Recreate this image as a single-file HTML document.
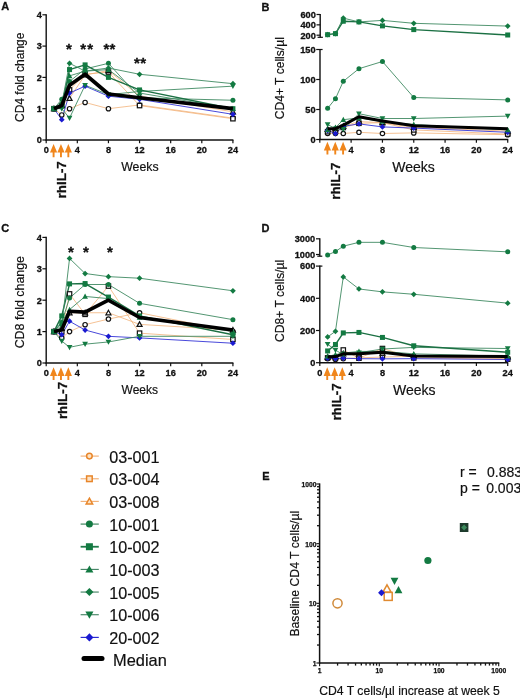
<!DOCTYPE html>
<html><head><meta charset="utf-8"><style>
html,body{margin:0;padding:0;background:#fff;}
body{width:520px;height:698px;overflow:hidden;font-family:"Liberation Sans",sans-serif;}
svg{display:block;filter:blur(0.3px);}
</style></head><body>
<svg width="520" height="698" viewBox="0 0 520 698" font-family="Liberation Sans, sans-serif">
<rect width="520" height="698" fill="#fff"/>
<text x="1.20" y="10.00" font-size="11" font-weight="bold" text-anchor="start" fill="#111" stroke="#111" stroke-width="0.3">A</text>
<path d="M46.20 14.20V140.60" stroke="#111" stroke-width="1.4"/>
<path d="M42.40 140.00H46.20" stroke="#111" stroke-width="1.2"/>
<text x="41.80" y="143.31" font-size="9.2" font-weight="bold" text-anchor="end" fill="#111" stroke="#111" stroke-width="0.3">0</text>
<path d="M42.40 108.70H46.20" stroke="#111" stroke-width="1.2"/>
<text x="41.80" y="112.01" font-size="9.2" font-weight="bold" text-anchor="end" fill="#111" stroke="#111" stroke-width="0.3">1</text>
<path d="M42.40 77.40H46.20" stroke="#111" stroke-width="1.2"/>
<text x="41.80" y="80.71" font-size="9.2" font-weight="bold" text-anchor="end" fill="#111" stroke="#111" stroke-width="0.3">2</text>
<path d="M42.40 46.10H46.20" stroke="#111" stroke-width="1.2"/>
<text x="41.80" y="49.41" font-size="9.2" font-weight="bold" text-anchor="end" fill="#111" stroke="#111" stroke-width="0.3">3</text>
<path d="M42.40 14.80H46.20" stroke="#111" stroke-width="1.2"/>
<text x="41.80" y="18.11" font-size="9.2" font-weight="bold" text-anchor="end" fill="#111" stroke="#111" stroke-width="0.3">4</text>
<path d="M45.50 140.00H233.42" stroke="#111" stroke-width="1.4"/>
<path d="M46.20 140.00V143.20" stroke="#111" stroke-width="1.2"/>
<text x="46.20" y="152.80" font-size="9.2" font-weight="bold" text-anchor="middle" fill="#111" stroke="#111" stroke-width="0.3">0</text>
<path d="M77.32 140.00V143.20" stroke="#111" stroke-width="1.2"/>
<text x="77.32" y="152.80" font-size="9.2" font-weight="bold" text-anchor="middle" fill="#111" stroke="#111" stroke-width="0.3">4</text>
<path d="M108.44 140.00V143.20" stroke="#111" stroke-width="1.2"/>
<text x="108.44" y="152.80" font-size="9.2" font-weight="bold" text-anchor="middle" fill="#111" stroke="#111" stroke-width="0.3">8</text>
<path d="M139.56 140.00V143.20" stroke="#111" stroke-width="1.2"/>
<text x="139.56" y="152.80" font-size="9.2" font-weight="bold" text-anchor="middle" fill="#111" stroke="#111" stroke-width="0.3">12</text>
<path d="M170.68 140.00V143.20" stroke="#111" stroke-width="1.2"/>
<text x="170.68" y="152.80" font-size="9.2" font-weight="bold" text-anchor="middle" fill="#111" stroke="#111" stroke-width="0.3">16</text>
<path d="M201.80 140.00V143.20" stroke="#111" stroke-width="1.2"/>
<text x="201.80" y="152.80" font-size="9.2" font-weight="bold" text-anchor="middle" fill="#111" stroke="#111" stroke-width="0.3">20</text>
<path d="M232.92 140.00V143.20" stroke="#111" stroke-width="1.2"/>
<text x="232.92" y="152.80" font-size="9.2" font-weight="bold" text-anchor="middle" fill="#111" stroke="#111" stroke-width="0.3">24</text>
<path d="M53.98 108.70L61.76 114.96L69.54 108.70L85.10 102.44L108.44 108.70L139.56 104.94L232.92 118.09" fill="none" stroke="#f2b27a" stroke-width="0.8" stroke-linejoin="round"/>
<path d="M53.98 108.70L61.76 105.57L69.54 89.92L85.10 74.27L108.44 72.08L139.56 105.57L232.92 118.72" fill="none" stroke="#f2b27a" stroke-width="0.8" stroke-linejoin="round"/>
<path d="M53.98 108.70L61.76 105.57L69.54 98.37L85.10 74.90L108.44 70.51L139.56 96.18L232.92 111.83" fill="none" stroke="#f2b27a" stroke-width="0.8" stroke-linejoin="round"/>
<path d="M53.98 108.70L61.76 119.66L69.54 93.05L85.10 86.16L108.44 96.18L139.56 99.31L232.92 114.33" fill="none" stroke="#1a1ad0" stroke-width="0.8" stroke-linejoin="round"/>
<path d="M53.98 108.70L61.76 108.70L69.54 118.09L85.10 85.22L108.44 94.62L139.56 91.48L232.92 86.16" fill="none" stroke="#3f8a62" stroke-width="0.9" stroke-linejoin="round"/>
<path d="M53.98 108.70L61.76 102.44L69.54 75.84L85.10 71.14L108.44 69.58L139.56 93.05L232.92 108.70" fill="none" stroke="#3f8a62" stroke-width="0.9" stroke-linejoin="round"/>
<path d="M53.98 108.70L61.76 99.31L69.54 81.47L85.10 68.95L108.44 63.31L139.56 97.75L232.92 100.25" fill="none" stroke="#3f8a62" stroke-width="0.9" stroke-linejoin="round"/>
<path d="M53.98 108.70L61.76 105.57L69.54 69.58L85.10 64.88L108.44 77.40L139.56 89.92L232.92 108.70" fill="none" stroke="#1b7043" stroke-width="1.4" stroke-linejoin="round"/>
<path d="M53.98 108.70L61.76 104.00L69.54 63.31L85.10 71.14L108.44 68.01L139.56 74.27L232.92 83.66" fill="none" stroke="#3f8a62" stroke-width="0.9" stroke-linejoin="round"/>
<circle cx="53.98" cy="108.70" r="2.20" fill="#fff" stroke="#111" stroke-width="1.2"/>
<circle cx="61.76" cy="114.96" r="2.20" fill="#fff" stroke="#111" stroke-width="1.2"/>
<circle cx="69.54" cy="108.70" r="2.20" fill="#fff" stroke="#111" stroke-width="1.2"/>
<circle cx="85.10" cy="102.44" r="2.20" fill="#fff" stroke="#111" stroke-width="1.2"/>
<circle cx="108.44" cy="108.70" r="2.20" fill="#fff" stroke="#111" stroke-width="1.2"/>
<circle cx="139.56" cy="104.94" r="2.20" fill="#fff" stroke="#111" stroke-width="1.2"/>
<circle cx="232.92" cy="118.09" r="2.20" fill="#fff" stroke="#111" stroke-width="1.2"/>
<rect x="51.78" y="106.50" width="4.40" height="4.40" fill="#fff" stroke="#111" stroke-width="1.2"/>
<rect x="59.56" y="103.37" width="4.40" height="4.40" fill="#fff" stroke="#111" stroke-width="1.2"/>
<rect x="67.34" y="87.72" width="4.40" height="4.40" fill="#fff" stroke="#111" stroke-width="1.2"/>
<rect x="82.90" y="72.07" width="4.40" height="4.40" fill="#fff" stroke="#111" stroke-width="1.2"/>
<rect x="106.24" y="69.88" width="4.40" height="4.40" fill="#fff" stroke="#111" stroke-width="1.2"/>
<rect x="137.36" y="103.37" width="4.40" height="4.40" fill="#fff" stroke="#111" stroke-width="1.2"/>
<rect x="230.72" y="116.52" width="4.40" height="4.40" fill="#fff" stroke="#111" stroke-width="1.2"/>
<path d="M53.98 106.17L56.51 110.72L51.45 110.72Z" fill="#fff" stroke="#111" stroke-width="1.2"/>
<path d="M61.76 103.04L64.29 107.59L59.23 107.59Z" fill="#fff" stroke="#111" stroke-width="1.2"/>
<path d="M69.54 95.84L72.07 100.39L67.01 100.39Z" fill="#fff" stroke="#111" stroke-width="1.2"/>
<path d="M85.10 72.37L87.63 76.92L82.57 76.92Z" fill="#fff" stroke="#111" stroke-width="1.2"/>
<path d="M108.44 67.98L110.97 72.54L105.91 72.54Z" fill="#fff" stroke="#111" stroke-width="1.2"/>
<path d="M139.56 93.65L142.09 98.20L137.03 98.20Z" fill="#fff" stroke="#111" stroke-width="1.2"/>
<path d="M232.92 109.30L235.45 113.85L230.39 113.85Z" fill="#fff" stroke="#111" stroke-width="1.2"/>
<path d="M53.98 105.83L56.86 108.70L53.98 111.58L51.11 108.70Z" fill="#1a1ad0"/>
<path d="M61.76 116.78L64.64 119.66L61.76 122.53L58.89 119.66Z" fill="#1a1ad0"/>
<path d="M69.54 90.17L72.42 93.05L69.54 95.92L66.67 93.05Z" fill="#1a1ad0"/>
<path d="M85.10 83.29L87.97 86.16L85.10 89.04L82.22 86.16Z" fill="#1a1ad0"/>
<path d="M108.44 93.31L111.31 96.18L108.44 99.06L105.56 96.18Z" fill="#1a1ad0"/>
<path d="M139.56 96.44L142.44 99.31L139.56 102.19L136.69 99.31Z" fill="#1a1ad0"/>
<path d="M232.92 111.46L235.80 114.33L232.92 117.21L230.05 114.33Z" fill="#1a1ad0"/>
<path d="M53.98 111.58L56.86 106.40L51.11 106.40Z" fill="#137a42"/>
<path d="M61.76 111.58L64.64 106.40L58.89 106.40Z" fill="#137a42"/>
<path d="M69.54 120.97L72.42 115.79L66.67 115.79Z" fill="#137a42"/>
<path d="M85.10 88.10L87.97 82.92L82.22 82.92Z" fill="#137a42"/>
<path d="M108.44 97.49L111.31 92.32L105.56 92.32Z" fill="#137a42"/>
<path d="M139.56 94.36L142.44 89.19L136.69 89.19Z" fill="#137a42"/>
<path d="M232.92 89.04L235.80 83.86L230.05 83.86Z" fill="#137a42"/>
<path d="M53.98 105.83L56.86 111.00L51.11 111.00Z" fill="#137a42"/>
<path d="M61.76 99.56L64.64 104.74L58.89 104.74Z" fill="#137a42"/>
<path d="M69.54 72.96L72.42 78.14L66.67 78.14Z" fill="#137a42"/>
<path d="M85.10 68.26L87.97 73.44L82.22 73.44Z" fill="#137a42"/>
<path d="M108.44 66.70L111.31 71.88L105.56 71.88Z" fill="#137a42"/>
<path d="M139.56 90.17L142.44 95.35L136.69 95.35Z" fill="#137a42"/>
<path d="M232.92 105.83L235.80 111.00L230.05 111.00Z" fill="#137a42"/>
<circle cx="53.98" cy="108.70" r="2.50" fill="#137a42"/>
<circle cx="61.76" cy="99.31" r="2.50" fill="#137a42"/>
<circle cx="69.54" cy="81.47" r="2.50" fill="#137a42"/>
<circle cx="85.10" cy="68.95" r="2.50" fill="#137a42"/>
<circle cx="108.44" cy="63.31" r="2.50" fill="#137a42"/>
<circle cx="139.56" cy="97.75" r="2.50" fill="#137a42"/>
<circle cx="232.92" cy="100.25" r="2.50" fill="#137a42"/>
<rect x="51.48" y="106.20" width="5.00" height="5.00" fill="#137a42"/>
<rect x="59.26" y="103.07" width="5.00" height="5.00" fill="#137a42"/>
<rect x="67.04" y="67.08" width="5.00" height="5.00" fill="#137a42"/>
<rect x="82.60" y="62.38" width="5.00" height="5.00" fill="#137a42"/>
<rect x="105.94" y="74.90" width="5.00" height="5.00" fill="#137a42"/>
<rect x="137.06" y="87.42" width="5.00" height="5.00" fill="#137a42"/>
<rect x="230.42" y="106.20" width="5.00" height="5.00" fill="#137a42"/>
<path d="M53.98 105.83L56.86 108.70L53.98 111.58L51.11 108.70Z" fill="#137a42"/>
<path d="M61.76 101.13L64.64 104.00L61.76 106.88L58.89 104.00Z" fill="#137a42"/>
<path d="M69.54 60.44L72.42 63.31L69.54 66.19L66.67 63.31Z" fill="#137a42"/>
<path d="M85.10 68.26L87.97 71.14L85.10 74.01L82.22 71.14Z" fill="#137a42"/>
<path d="M108.44 65.14L111.31 68.01L108.44 70.89L105.56 68.01Z" fill="#137a42"/>
<path d="M139.56 71.39L142.44 74.27L139.56 77.14L136.69 74.27Z" fill="#137a42"/>
<path d="M232.92 80.78L235.80 83.66L232.92 86.53L230.05 83.66Z" fill="#137a42"/>
<path d="M53.98 108.70L61.76 105.57L69.54 85.22L85.10 74.27L108.44 93.99L139.56 97.75L232.92 108.70" fill="none" stroke="#000" stroke-width="3.7" stroke-linejoin="round"/>
<text x="69.00" y="54.20" font-size="15" font-weight="bold" text-anchor="middle" fill="#111" stroke="#111" stroke-width="0.3">*</text>
<text x="83.10" y="54.20" font-size="15" font-weight="bold" text-anchor="middle" fill="#111" stroke="#111" stroke-width="0.3">*</text>
<text x="90.10" y="54.20" font-size="15" font-weight="bold" text-anchor="middle" fill="#111" stroke="#111" stroke-width="0.3">*</text>
<text x="106.30" y="54.20" font-size="15" font-weight="bold" text-anchor="middle" fill="#111" stroke="#111" stroke-width="0.3">*</text>
<text x="112.50" y="54.20" font-size="15" font-weight="bold" text-anchor="middle" fill="#111" stroke="#111" stroke-width="0.3">*</text>
<text x="137.00" y="68.20" font-size="15" font-weight="bold" text-anchor="middle" fill="#111" stroke="#111" stroke-width="0.3">*</text>
<text x="143.20" y="68.20" font-size="15" font-weight="bold" text-anchor="middle" fill="#111" stroke="#111" stroke-width="0.3">*</text>
<text x="23.80" y="77.30" font-size="12" text-anchor="middle" transform="rotate(-90 23.80 77.30)" fill="#111" stroke="#111" stroke-width="0.18">CD4 fold change</text>
<text x="139.90" y="171.30" font-size="12.3" text-anchor="middle" fill="#111" stroke="#111" stroke-width="0.18">Weeks</text>
<path d="M53.58 144.00L57.18 152.60L54.53 152.60L54.53 157.30L52.63 157.30L52.63 152.60L49.98 152.60Z" fill="#f0861c"/>
<path d="M60.96 144.00L64.56 152.60L61.91 152.60L61.91 157.30L60.01 157.30L60.01 152.60L57.36 152.60Z" fill="#f0861c"/>
<path d="M68.34 144.00L71.94 152.60L69.29 152.60L69.29 157.30L67.39 157.30L67.39 152.60L64.74 152.60Z" fill="#f0861c"/>
<text x="66.30" y="179.80" font-size="13.4" font-weight="bold" text-anchor="middle" transform="rotate(-90 66.30 179.80)" fill="#111" stroke="#111" stroke-width="0.3">rhIL-7</text>
<text x="1.20" y="231.90" font-size="11" font-weight="bold" text-anchor="start" fill="#111" stroke="#111" stroke-width="0.3">C</text>
<path d="M46.20 236.80V363.60" stroke="#111" stroke-width="1.4"/>
<path d="M42.40 363.00H46.20" stroke="#111" stroke-width="1.2"/>
<text x="41.80" y="366.31" font-size="9.2" font-weight="bold" text-anchor="end" fill="#111" stroke="#111" stroke-width="0.3">0</text>
<path d="M42.40 331.60H46.20" stroke="#111" stroke-width="1.2"/>
<text x="41.80" y="334.91" font-size="9.2" font-weight="bold" text-anchor="end" fill="#111" stroke="#111" stroke-width="0.3">1</text>
<path d="M42.40 300.20H46.20" stroke="#111" stroke-width="1.2"/>
<text x="41.80" y="303.51" font-size="9.2" font-weight="bold" text-anchor="end" fill="#111" stroke="#111" stroke-width="0.3">2</text>
<path d="M42.40 268.80H46.20" stroke="#111" stroke-width="1.2"/>
<text x="41.80" y="272.11" font-size="9.2" font-weight="bold" text-anchor="end" fill="#111" stroke="#111" stroke-width="0.3">3</text>
<path d="M42.40 237.40H46.20" stroke="#111" stroke-width="1.2"/>
<text x="41.80" y="240.71" font-size="9.2" font-weight="bold" text-anchor="end" fill="#111" stroke="#111" stroke-width="0.3">4</text>
<path d="M45.50 363.00H233.42" stroke="#111" stroke-width="1.4"/>
<path d="M46.20 363.00V366.20" stroke="#111" stroke-width="1.2"/>
<text x="46.20" y="375.60" font-size="9.2" font-weight="bold" text-anchor="middle" fill="#111" stroke="#111" stroke-width="0.3">0</text>
<path d="M77.32 363.00V366.20" stroke="#111" stroke-width="1.2"/>
<text x="77.32" y="375.60" font-size="9.2" font-weight="bold" text-anchor="middle" fill="#111" stroke="#111" stroke-width="0.3">4</text>
<path d="M108.44 363.00V366.20" stroke="#111" stroke-width="1.2"/>
<text x="108.44" y="375.60" font-size="9.2" font-weight="bold" text-anchor="middle" fill="#111" stroke="#111" stroke-width="0.3">8</text>
<path d="M139.56 363.00V366.20" stroke="#111" stroke-width="1.2"/>
<text x="139.56" y="375.60" font-size="9.2" font-weight="bold" text-anchor="middle" fill="#111" stroke="#111" stroke-width="0.3">12</text>
<path d="M170.68 363.00V366.20" stroke="#111" stroke-width="1.2"/>
<text x="170.68" y="375.60" font-size="9.2" font-weight="bold" text-anchor="middle" fill="#111" stroke="#111" stroke-width="0.3">16</text>
<path d="M201.80 363.00V366.20" stroke="#111" stroke-width="1.2"/>
<text x="201.80" y="375.60" font-size="9.2" font-weight="bold" text-anchor="middle" fill="#111" stroke="#111" stroke-width="0.3">20</text>
<path d="M232.92 363.00V366.20" stroke="#111" stroke-width="1.2"/>
<text x="232.92" y="375.60" font-size="9.2" font-weight="bold" text-anchor="middle" fill="#111" stroke="#111" stroke-width="0.3">24</text>
<path d="M53.98 331.60L61.76 337.88L69.54 331.60L85.10 324.69L108.44 319.04L139.56 312.76L232.92 331.60" fill="none" stroke="#f2b27a" stroke-width="0.8" stroke-linejoin="round"/>
<path d="M53.98 331.60L61.76 331.60L69.54 293.92L85.10 314.33L108.44 286.07L139.56 333.17L232.92 339.45" fill="none" stroke="#f2b27a" stroke-width="0.8" stroke-linejoin="round"/>
<path d="M53.98 331.60L61.76 328.46L69.54 312.76L85.10 312.76L108.44 312.76L139.56 324.38L232.92 330.03" fill="none" stroke="#f2b27a" stroke-width="0.8" stroke-linejoin="round"/>
<path d="M53.98 331.60L61.76 334.74L69.54 321.24L85.10 330.03L108.44 336.31L139.56 337.88L232.92 343.22" fill="none" stroke="#1a1ad0" stroke-width="0.8" stroke-linejoin="round"/>
<path d="M53.98 331.60L61.76 341.02L69.54 347.30L85.10 344.16L108.44 341.96L139.56 336.31L232.92 336.31" fill="none" stroke="#3f8a62" stroke-width="0.9" stroke-linejoin="round"/>
<path d="M53.98 331.60L61.76 322.18L69.54 309.62L85.10 296.43L108.44 298.63L139.56 317.47L232.92 331.60" fill="none" stroke="#3f8a62" stroke-width="0.9" stroke-linejoin="round"/>
<path d="M53.98 331.60L61.76 322.18L69.54 298.00L85.10 284.50L108.44 284.50L139.56 303.34L232.92 319.67" fill="none" stroke="#3f8a62" stroke-width="0.9" stroke-linejoin="round"/>
<path d="M53.98 331.60L61.76 315.90L69.54 283.87L85.10 283.56L108.44 297.06L139.56 315.90L232.92 334.74" fill="none" stroke="#1b7043" stroke-width="1.4" stroke-linejoin="round"/>
<path d="M53.98 331.60L61.76 325.32L69.54 258.44L85.10 273.51L108.44 276.65L139.56 278.22L232.92 290.78" fill="none" stroke="#3f8a62" stroke-width="0.9" stroke-linejoin="round"/>
<circle cx="53.98" cy="331.60" r="2.20" fill="#fff" stroke="#111" stroke-width="1.2"/>
<circle cx="61.76" cy="337.88" r="2.20" fill="#fff" stroke="#111" stroke-width="1.2"/>
<circle cx="69.54" cy="331.60" r="2.20" fill="#fff" stroke="#111" stroke-width="1.2"/>
<circle cx="85.10" cy="324.69" r="2.20" fill="#fff" stroke="#111" stroke-width="1.2"/>
<circle cx="108.44" cy="319.04" r="2.20" fill="#fff" stroke="#111" stroke-width="1.2"/>
<circle cx="139.56" cy="312.76" r="2.20" fill="#fff" stroke="#111" stroke-width="1.2"/>
<circle cx="232.92" cy="331.60" r="2.20" fill="#fff" stroke="#111" stroke-width="1.2"/>
<rect x="51.78" y="329.40" width="4.40" height="4.40" fill="#fff" stroke="#111" stroke-width="1.2"/>
<rect x="59.56" y="329.40" width="4.40" height="4.40" fill="#fff" stroke="#111" stroke-width="1.2"/>
<rect x="67.34" y="291.72" width="4.40" height="4.40" fill="#fff" stroke="#111" stroke-width="1.2"/>
<rect x="82.90" y="312.13" width="4.40" height="4.40" fill="#fff" stroke="#111" stroke-width="1.2"/>
<rect x="106.24" y="283.87" width="4.40" height="4.40" fill="#fff" stroke="#111" stroke-width="1.2"/>
<rect x="137.36" y="330.97" width="4.40" height="4.40" fill="#fff" stroke="#111" stroke-width="1.2"/>
<rect x="230.72" y="337.25" width="4.40" height="4.40" fill="#fff" stroke="#111" stroke-width="1.2"/>
<path d="M53.98 329.07L56.51 333.62L51.45 333.62Z" fill="#fff" stroke="#111" stroke-width="1.2"/>
<path d="M61.76 325.93L64.29 330.48L59.23 330.48Z" fill="#fff" stroke="#111" stroke-width="1.2"/>
<path d="M69.54 310.23L72.07 314.78L67.01 314.78Z" fill="#fff" stroke="#111" stroke-width="1.2"/>
<path d="M85.10 310.23L87.63 314.78L82.57 314.78Z" fill="#fff" stroke="#111" stroke-width="1.2"/>
<path d="M108.44 310.23L110.97 314.78L105.91 314.78Z" fill="#fff" stroke="#111" stroke-width="1.2"/>
<path d="M139.56 321.85L142.09 326.40L137.03 326.40Z" fill="#fff" stroke="#111" stroke-width="1.2"/>
<path d="M232.92 327.50L235.45 332.05L230.39 332.05Z" fill="#fff" stroke="#111" stroke-width="1.2"/>
<path d="M53.98 328.73L56.86 331.60L53.98 334.48L51.11 331.60Z" fill="#1a1ad0"/>
<path d="M61.76 331.87L64.64 334.74L61.76 337.62L58.89 334.74Z" fill="#1a1ad0"/>
<path d="M69.54 318.36L72.42 321.24L69.54 324.11L66.67 321.24Z" fill="#1a1ad0"/>
<path d="M85.10 327.15L87.97 330.03L85.10 332.90L82.22 330.03Z" fill="#1a1ad0"/>
<path d="M108.44 333.44L111.31 336.31L108.44 339.19L105.56 336.31Z" fill="#1a1ad0"/>
<path d="M139.56 335.00L142.44 337.88L139.56 340.75L136.69 337.88Z" fill="#1a1ad0"/>
<path d="M232.92 340.34L235.80 343.22L232.92 346.09L230.05 343.22Z" fill="#1a1ad0"/>
<path d="M53.98 334.48L56.86 329.30L51.11 329.30Z" fill="#137a42"/>
<path d="M61.76 343.89L64.64 338.72L58.89 338.72Z" fill="#137a42"/>
<path d="M69.54 350.18L72.42 345.00L66.67 345.00Z" fill="#137a42"/>
<path d="M85.10 347.04L87.97 341.86L82.22 341.86Z" fill="#137a42"/>
<path d="M108.44 344.84L111.31 339.66L105.56 339.66Z" fill="#137a42"/>
<path d="M139.56 339.19L142.44 334.01L136.69 334.01Z" fill="#137a42"/>
<path d="M232.92 339.19L235.80 334.01L230.05 334.01Z" fill="#137a42"/>
<path d="M53.98 328.73L56.86 333.90L51.11 333.90Z" fill="#137a42"/>
<path d="M61.76 319.31L64.64 324.48L58.89 324.48Z" fill="#137a42"/>
<path d="M69.54 306.75L72.42 311.92L66.67 311.92Z" fill="#137a42"/>
<path d="M85.10 293.56L87.97 298.73L82.22 298.73Z" fill="#137a42"/>
<path d="M108.44 295.75L111.31 300.93L105.56 300.93Z" fill="#137a42"/>
<path d="M139.56 314.60L142.44 319.77L136.69 319.77Z" fill="#137a42"/>
<path d="M232.92 328.73L235.80 333.90L230.05 333.90Z" fill="#137a42"/>
<circle cx="53.98" cy="331.60" r="2.50" fill="#137a42"/>
<circle cx="61.76" cy="322.18" r="2.50" fill="#137a42"/>
<circle cx="69.54" cy="298.00" r="2.50" fill="#137a42"/>
<circle cx="85.10" cy="284.50" r="2.50" fill="#137a42"/>
<circle cx="108.44" cy="284.50" r="2.50" fill="#137a42"/>
<circle cx="139.56" cy="303.34" r="2.50" fill="#137a42"/>
<circle cx="232.92" cy="319.67" r="2.50" fill="#137a42"/>
<rect x="51.48" y="329.10" width="5.00" height="5.00" fill="#137a42"/>
<rect x="59.26" y="313.40" width="5.00" height="5.00" fill="#137a42"/>
<rect x="67.04" y="281.37" width="5.00" height="5.00" fill="#137a42"/>
<rect x="82.60" y="281.06" width="5.00" height="5.00" fill="#137a42"/>
<rect x="105.94" y="294.56" width="5.00" height="5.00" fill="#137a42"/>
<rect x="137.06" y="313.40" width="5.00" height="5.00" fill="#137a42"/>
<rect x="230.42" y="332.24" width="5.00" height="5.00" fill="#137a42"/>
<path d="M53.98 328.73L56.86 331.60L53.98 334.48L51.11 331.60Z" fill="#137a42"/>
<path d="M61.76 322.44L64.64 325.32L61.76 328.19L58.89 325.32Z" fill="#137a42"/>
<path d="M69.54 255.56L72.42 258.44L69.54 261.31L66.67 258.44Z" fill="#137a42"/>
<path d="M85.10 270.63L87.97 273.51L85.10 276.38L82.22 273.51Z" fill="#137a42"/>
<path d="M108.44 273.77L111.31 276.65L108.44 279.52L105.56 276.65Z" fill="#137a42"/>
<path d="M139.56 275.35L142.44 278.22L139.56 281.10L136.69 278.22Z" fill="#137a42"/>
<path d="M232.92 287.91L235.80 290.78L232.92 293.66L230.05 290.78Z" fill="#137a42"/>
<path d="M53.98 331.60L61.76 330.03L69.54 311.19L85.10 312.13L108.44 300.20L139.56 317.47L232.92 330.03" fill="none" stroke="#000" stroke-width="3.6" stroke-linejoin="round"/>
<text x="70.80" y="256.50" font-size="15" font-weight="bold" text-anchor="middle" fill="#111" stroke="#111" stroke-width="0.3">*</text>
<text x="85.80" y="256.50" font-size="15" font-weight="bold" text-anchor="middle" fill="#111" stroke="#111" stroke-width="0.3">*</text>
<text x="110.00" y="256.50" font-size="15" font-weight="bold" text-anchor="middle" fill="#111" stroke="#111" stroke-width="0.3">*</text>
<text x="23.60" y="302.20" font-size="12.4" text-anchor="middle" transform="rotate(-90 23.60 302.20)" fill="#111" stroke="#111" stroke-width="0.18">CD8 fold change</text>
<text x="139.80" y="394.00" font-size="12" text-anchor="middle" fill="#111" stroke="#111" stroke-width="0.18">Weeks</text>
<path d="M53.58 367.30L57.18 375.90L54.53 375.90L54.53 380.00L52.63 380.00L52.63 375.90L49.98 375.90Z" fill="#f0861c"/>
<path d="M60.96 367.30L64.56 375.90L61.91 375.90L61.91 380.00L60.01 380.00L60.01 375.90L57.36 375.90Z" fill="#f0861c"/>
<path d="M68.34 367.30L71.94 375.90L69.29 375.90L69.29 380.00L67.39 380.00L67.39 375.90L64.74 375.90Z" fill="#f0861c"/>
<text x="67.00" y="400.50" font-size="13.4" font-weight="bold" text-anchor="middle" transform="rotate(-90 67.00 400.50)" fill="#111" stroke="#111" stroke-width="0.3">rhIL-7</text>
<text x="261.50" y="10.50" font-size="11" font-weight="bold" text-anchor="start" fill="#111" stroke="#111" stroke-width="0.3">B</text>
<path d="M320.2 13.90V37.3" stroke="#111" stroke-width="1.4"/>
<path d="M317.6 37.3H322.9" stroke="#111" stroke-width="1.2"/>
<path d="M316.5 14.50H320.2" stroke="#111" stroke-width="1.2"/>
<text x="315.80" y="17.80" font-size="9.2" font-weight="bold" text-anchor="end" fill="#111" stroke="#111" stroke-width="0.3">600</text>
<path d="M316.5 24.85H320.2" stroke="#111" stroke-width="1.2"/>
<text x="315.80" y="28.15" font-size="9.2" font-weight="bold" text-anchor="end" fill="#111" stroke="#111" stroke-width="0.3">400</text>
<path d="M316.5 35.20H320.2" stroke="#111" stroke-width="1.2"/>
<text x="315.80" y="38.50" font-size="9.2" font-weight="bold" text-anchor="end" fill="#111" stroke="#111" stroke-width="0.3">200</text>
<path d="M320.00 48.90V140.10" stroke="#111" stroke-width="1.4"/>
<path d="M316.20 139.50H320.00" stroke="#111" stroke-width="1.2"/>
<text x="315.60" y="142.81" font-size="9.2" font-weight="bold" text-anchor="end" fill="#111" stroke="#111" stroke-width="0.3">0</text>
<path d="M316.20 109.50H320.00" stroke="#111" stroke-width="1.2"/>
<text x="315.60" y="112.81" font-size="9.2" font-weight="bold" text-anchor="end" fill="#111" stroke="#111" stroke-width="0.3">50</text>
<path d="M316.20 79.50H320.00" stroke="#111" stroke-width="1.2"/>
<text x="315.60" y="82.81" font-size="9.2" font-weight="bold" text-anchor="end" fill="#111" stroke="#111" stroke-width="0.3">100</text>
<path d="M316.20 49.50H320.00" stroke="#111" stroke-width="1.2"/>
<text x="315.60" y="52.81" font-size="9.2" font-weight="bold" text-anchor="end" fill="#111" stroke="#111" stroke-width="0.3">150</text>
<path d="M320 49.50H322.6" stroke="#111" stroke-width="1.2"/>
<path d="M319.10 139.50H508.22" stroke="#111" stroke-width="1.4"/>
<path d="M319.80 139.50V142.70" stroke="#111" stroke-width="1.2"/>
<path d="M351.12 139.50V142.70" stroke="#111" stroke-width="1.2"/>
<text x="351.12" y="152.80" font-size="9.2" font-weight="bold" text-anchor="middle" fill="#111" stroke="#111" stroke-width="0.3">4</text>
<path d="M382.44 139.50V142.70" stroke="#111" stroke-width="1.2"/>
<text x="382.44" y="152.80" font-size="9.2" font-weight="bold" text-anchor="middle" fill="#111" stroke="#111" stroke-width="0.3">8</text>
<path d="M413.76 139.50V142.70" stroke="#111" stroke-width="1.2"/>
<text x="413.76" y="152.80" font-size="9.2" font-weight="bold" text-anchor="middle" fill="#111" stroke="#111" stroke-width="0.3">12</text>
<path d="M445.08 139.50V142.70" stroke="#111" stroke-width="1.2"/>
<text x="445.08" y="152.80" font-size="9.2" font-weight="bold" text-anchor="middle" fill="#111" stroke="#111" stroke-width="0.3">16</text>
<path d="M476.40 139.50V142.70" stroke="#111" stroke-width="1.2"/>
<text x="476.40" y="152.80" font-size="9.2" font-weight="bold" text-anchor="middle" fill="#111" stroke="#111" stroke-width="0.3">20</text>
<path d="M507.72 139.50V142.70" stroke="#111" stroke-width="1.2"/>
<text x="507.72" y="152.80" font-size="9.2" font-weight="bold" text-anchor="middle" fill="#111" stroke="#111" stroke-width="0.3">24</text>
<path d="M327.63 133.50L335.46 133.50L343.29 133.50L358.95 132.30L382.44 133.50L413.76 132.90L507.72 134.70" fill="none" stroke="#f2b27a" stroke-width="0.8" stroke-linejoin="round"/>
<path d="M327.63 131.70L335.46 131.10L343.29 127.50L358.95 123.30L382.44 122.70L413.76 129.90L507.72 134.10" fill="none" stroke="#f2b27a" stroke-width="0.8" stroke-linejoin="round"/>
<path d="M327.63 129.30L335.46 128.70L343.29 126.30L358.95 121.50L382.44 122.70L413.76 127.50L507.72 131.10" fill="none" stroke="#f2b27a" stroke-width="0.8" stroke-linejoin="round"/>
<path d="M327.63 130.50L335.46 133.50L343.29 126.30L358.95 123.90L382.44 126.90L413.76 128.10L507.72 132.30" fill="none" stroke="#1a1ad0" stroke-width="0.8" stroke-linejoin="round"/>
<path d="M327.63 124.50L335.46 128.70L343.29 129.30L358.95 113.70L382.44 118.50L413.76 118.50L507.72 116.10" fill="none" stroke="#3f8a62" stroke-width="0.9" stroke-linejoin="round"/>
<path d="M327.63 129.90L335.46 127.50L343.29 119.70L358.95 117.90L382.44 121.50L413.76 124.50L507.72 129.90" fill="none" stroke="#3f8a62" stroke-width="0.9" stroke-linejoin="round"/>
<path d="M327.63 108.30L335.46 98.70L343.29 81.30L358.95 68.70L382.44 61.50L413.76 97.50L507.72 99.90" fill="none" stroke="#3f8a62" stroke-width="0.9" stroke-linejoin="round"/>
<circle cx="327.63" cy="133.50" r="2.20" fill="#fff" stroke="#111" stroke-width="1.2"/>
<circle cx="335.46" cy="133.50" r="2.20" fill="#fff" stroke="#111" stroke-width="1.2"/>
<circle cx="343.29" cy="133.50" r="2.20" fill="#fff" stroke="#111" stroke-width="1.2"/>
<circle cx="358.95" cy="132.30" r="2.20" fill="#fff" stroke="#111" stroke-width="1.2"/>
<circle cx="382.44" cy="133.50" r="2.20" fill="#fff" stroke="#111" stroke-width="1.2"/>
<circle cx="413.76" cy="132.90" r="2.20" fill="#fff" stroke="#111" stroke-width="1.2"/>
<circle cx="507.72" cy="134.70" r="2.20" fill="#fff" stroke="#111" stroke-width="1.2"/>
<rect x="325.43" y="129.50" width="4.40" height="4.40" fill="#fff" stroke="#111" stroke-width="1.2"/>
<rect x="333.26" y="128.90" width="4.40" height="4.40" fill="#fff" stroke="#111" stroke-width="1.2"/>
<rect x="341.09" y="125.30" width="4.40" height="4.40" fill="#fff" stroke="#111" stroke-width="1.2"/>
<rect x="356.75" y="121.10" width="4.40" height="4.40" fill="#fff" stroke="#111" stroke-width="1.2"/>
<rect x="380.24" y="120.50" width="4.40" height="4.40" fill="#fff" stroke="#111" stroke-width="1.2"/>
<rect x="411.56" y="127.70" width="4.40" height="4.40" fill="#fff" stroke="#111" stroke-width="1.2"/>
<rect x="505.52" y="131.90" width="4.40" height="4.40" fill="#fff" stroke="#111" stroke-width="1.2"/>
<path d="M327.63 126.77L330.16 131.32L325.10 131.32Z" fill="#fff" stroke="#111" stroke-width="1.2"/>
<path d="M335.46 126.17L337.99 130.72L332.93 130.72Z" fill="#fff" stroke="#111" stroke-width="1.2"/>
<path d="M343.29 123.77L345.82 128.32L340.76 128.32Z" fill="#fff" stroke="#111" stroke-width="1.2"/>
<path d="M358.95 118.97L361.48 123.52L356.42 123.52Z" fill="#fff" stroke="#111" stroke-width="1.2"/>
<path d="M382.44 120.17L384.97 124.72L379.91 124.72Z" fill="#fff" stroke="#111" stroke-width="1.2"/>
<path d="M413.76 124.97L416.29 129.52L411.23 129.52Z" fill="#fff" stroke="#111" stroke-width="1.2"/>
<path d="M507.72 128.57L510.25 133.12L505.19 133.12Z" fill="#fff" stroke="#111" stroke-width="1.2"/>
<path d="M327.63 127.62L330.50 130.50L327.63 133.38L324.75 130.50Z" fill="#1a1ad0"/>
<path d="M335.46 130.62L338.34 133.50L335.46 136.38L332.59 133.50Z" fill="#1a1ad0"/>
<path d="M343.29 123.42L346.17 126.30L343.29 129.18L340.42 126.30Z" fill="#1a1ad0"/>
<path d="M358.95 121.03L361.82 123.90L358.95 126.78L356.07 123.90Z" fill="#1a1ad0"/>
<path d="M382.44 124.03L385.31 126.90L382.44 129.78L379.56 126.90Z" fill="#1a1ad0"/>
<path d="M413.76 125.22L416.63 128.10L413.76 130.97L410.88 128.10Z" fill="#1a1ad0"/>
<path d="M507.72 129.43L510.60 132.30L507.72 135.18L504.85 132.30Z" fill="#1a1ad0"/>
<path d="M327.63 127.38L330.50 122.20L324.75 122.20Z" fill="#137a42"/>
<path d="M335.46 131.57L338.34 126.40L332.59 126.40Z" fill="#137a42"/>
<path d="M343.29 132.18L346.17 127.00L340.42 127.00Z" fill="#137a42"/>
<path d="M358.95 116.58L361.82 111.40L356.07 111.40Z" fill="#137a42"/>
<path d="M382.44 121.38L385.31 116.20L379.56 116.20Z" fill="#137a42"/>
<path d="M413.76 121.38L416.63 116.20L410.88 116.20Z" fill="#137a42"/>
<path d="M507.72 118.97L510.60 113.80L504.85 113.80Z" fill="#137a42"/>
<path d="M327.63 127.03L330.50 132.20L324.75 132.20Z" fill="#137a42"/>
<path d="M335.46 124.62L338.34 129.80L332.59 129.80Z" fill="#137a42"/>
<path d="M343.29 116.83L346.17 122.00L340.42 122.00Z" fill="#137a42"/>
<path d="M358.95 115.03L361.82 120.20L356.07 120.20Z" fill="#137a42"/>
<path d="M382.44 118.62L385.31 123.80L379.56 123.80Z" fill="#137a42"/>
<path d="M413.76 121.62L416.63 126.80L410.88 126.80Z" fill="#137a42"/>
<path d="M507.72 127.03L510.60 132.20L504.85 132.20Z" fill="#137a42"/>
<circle cx="327.63" cy="108.30" r="2.50" fill="#137a42"/>
<circle cx="335.46" cy="98.70" r="2.50" fill="#137a42"/>
<circle cx="343.29" cy="81.30" r="2.50" fill="#137a42"/>
<circle cx="358.95" cy="68.70" r="2.50" fill="#137a42"/>
<circle cx="382.44" cy="61.50" r="2.50" fill="#137a42"/>
<circle cx="413.76" cy="97.50" r="2.50" fill="#137a42"/>
<circle cx="507.72" cy="99.90" r="2.50" fill="#137a42"/>
<path d="M327.63 128.70L335.46 128.70L343.29 125.10L358.95 116.70L382.44 120.90L413.76 125.70L507.72 128.70" fill="none" stroke="#000" stroke-width="3.0" stroke-linejoin="round"/>
<path d="M327.63 34.68L335.46 33.65L343.29 21.23L358.95 21.90L382.44 25.88L413.76 29.61L507.72 34.99" fill="none" stroke="#1b7043" stroke-width="1.4" stroke-linejoin="round"/>
<path d="M327.63 34.68L335.46 33.65L343.29 18.12L358.95 21.90L382.44 20.40L413.76 23.30L507.72 26.09" fill="none" stroke="#3f8a62" stroke-width="0.9" stroke-linejoin="round"/>
<rect x="325.13" y="32.18" width="5.00" height="5.00" fill="#137a42"/>
<rect x="332.96" y="31.15" width="5.00" height="5.00" fill="#137a42"/>
<rect x="340.79" y="18.73" width="5.00" height="5.00" fill="#137a42"/>
<rect x="356.45" y="19.40" width="5.00" height="5.00" fill="#137a42"/>
<rect x="379.94" y="23.38" width="5.00" height="5.00" fill="#137a42"/>
<rect x="411.26" y="27.11" width="5.00" height="5.00" fill="#137a42"/>
<rect x="505.22" y="32.49" width="5.00" height="5.00" fill="#137a42"/>
<path d="M327.63 31.81L330.50 34.68L327.63 37.56L324.75 34.68Z" fill="#137a42"/>
<path d="M335.46 30.77L338.34 33.65L335.46 36.52L332.59 33.65Z" fill="#137a42"/>
<path d="M343.29 15.25L346.17 18.12L343.29 21.00L340.42 18.12Z" fill="#137a42"/>
<path d="M358.95 19.03L361.82 21.90L358.95 24.78L356.07 21.90Z" fill="#137a42"/>
<path d="M382.44 17.52L385.31 20.40L382.44 23.27L379.56 20.40Z" fill="#137a42"/>
<path d="M413.76 20.42L416.63 23.30L413.76 26.17L410.88 23.30Z" fill="#137a42"/>
<path d="M507.72 23.22L510.60 26.09L507.72 28.97L504.85 26.09Z" fill="#137a42"/>
<text x="283.70" y="78.20" font-size="12.1" text-anchor="middle" transform="rotate(-90 283.70 78.20)" fill="#111" stroke="#111" stroke-width="0.18">CD4+ T cells/µl</text>
<text x="413.60" y="171.60" font-size="14" text-anchor="middle" fill="#111" stroke="#111" stroke-width="0.18">Weeks</text>
<path d="M327.43 141.80L331.03 150.40L328.38 150.40L328.38 154.50L326.48 154.50L326.48 150.40L323.83 150.40Z" fill="#f0861c"/>
<path d="M335.26 141.80L338.86 150.40L336.21 150.40L336.21 154.50L334.31 154.50L334.31 150.40L331.66 150.40Z" fill="#f0861c"/>
<path d="M343.09 141.80L346.69 150.40L344.04 150.40L344.04 154.50L342.14 154.50L342.14 150.40L339.49 150.40Z" fill="#f0861c"/>
<text x="339.80" y="181.20" font-size="13.4" font-weight="bold" text-anchor="middle" transform="rotate(-90 339.80 181.20)" fill="#111" stroke="#111" stroke-width="0.3">rhIL-7</text>
<text x="261.50" y="231.90" font-size="11" font-weight="bold" text-anchor="start" fill="#111" stroke="#111" stroke-width="0.3">D</text>
<path d="M319.8 238.20V256.2" stroke="#111" stroke-width="1.4"/>
<path d="M317.3 256.2H322.3" stroke="#111" stroke-width="1.2"/>
<path d="M316.0 238.80H319.8" stroke="#111" stroke-width="1.2"/>
<text x="315.20" y="242.10" font-size="9.2" font-weight="bold" text-anchor="end" fill="#111" stroke="#111" stroke-width="0.3">3000</text>
<path d="M316.0 254.50H319.8" stroke="#111" stroke-width="1.2"/>
<text x="315.20" y="257.80" font-size="9.2" font-weight="bold" text-anchor="end" fill="#111" stroke="#111" stroke-width="0.3">1000</text>
<path d="M319.80 265.50V363.30" stroke="#111" stroke-width="1.4"/>
<path d="M316.00 362.70H319.80" stroke="#111" stroke-width="1.2"/>
<text x="315.40" y="366.01" font-size="9.2" font-weight="bold" text-anchor="end" fill="#111" stroke="#111" stroke-width="0.3">0</text>
<path d="M316.00 330.50H319.80" stroke="#111" stroke-width="1.2"/>
<text x="315.40" y="333.81" font-size="9.2" font-weight="bold" text-anchor="end" fill="#111" stroke="#111" stroke-width="0.3">200</text>
<path d="M316.00 298.30H319.80" stroke="#111" stroke-width="1.2"/>
<text x="315.40" y="301.61" font-size="9.2" font-weight="bold" text-anchor="end" fill="#111" stroke="#111" stroke-width="0.3">400</text>
<path d="M316.00 266.10H319.80" stroke="#111" stroke-width="1.2"/>
<text x="315.40" y="269.41" font-size="9.2" font-weight="bold" text-anchor="end" fill="#111" stroke="#111" stroke-width="0.3">600</text>
<path d="M319.8 266.10H322.4" stroke="#111" stroke-width="1.2"/>
<path d="M319.10 362.70H508.22" stroke="#111" stroke-width="1.4"/>
<path d="M319.80 362.70V365.90" stroke="#111" stroke-width="1.2"/>
<text x="319.80" y="375.80" font-size="9.2" font-weight="bold" text-anchor="middle" fill="#111" stroke="#111" stroke-width="0.3">0</text>
<path d="M351.12 362.70V365.90" stroke="#111" stroke-width="1.2"/>
<text x="351.12" y="375.80" font-size="9.2" font-weight="bold" text-anchor="middle" fill="#111" stroke="#111" stroke-width="0.3">4</text>
<path d="M382.44 362.70V365.90" stroke="#111" stroke-width="1.2"/>
<text x="382.44" y="375.80" font-size="9.2" font-weight="bold" text-anchor="middle" fill="#111" stroke="#111" stroke-width="0.3">8</text>
<path d="M413.76 362.70V365.90" stroke="#111" stroke-width="1.2"/>
<text x="413.76" y="375.80" font-size="9.2" font-weight="bold" text-anchor="middle" fill="#111" stroke="#111" stroke-width="0.3">12</text>
<path d="M445.08 362.70V365.90" stroke="#111" stroke-width="1.2"/>
<text x="445.08" y="375.80" font-size="9.2" font-weight="bold" text-anchor="middle" fill="#111" stroke="#111" stroke-width="0.3">16</text>
<path d="M476.40 362.70V365.90" stroke="#111" stroke-width="1.2"/>
<text x="476.40" y="375.80" font-size="9.2" font-weight="bold" text-anchor="middle" fill="#111" stroke="#111" stroke-width="0.3">20</text>
<path d="M507.72 362.70V365.90" stroke="#111" stroke-width="1.2"/>
<text x="507.72" y="375.80" font-size="9.2" font-weight="bold" text-anchor="middle" fill="#111" stroke="#111" stroke-width="0.3">24</text>
<path d="M327.63 358.68L335.46 359.48L343.29 358.68L358.95 357.87L382.44 357.06L413.76 356.26L507.72 358.68" fill="none" stroke="#f2b27a" stroke-width="0.8" stroke-linejoin="round"/>
<path d="M327.63 357.87L335.46 357.87L343.29 349.98L358.95 358.19L382.44 348.53L413.76 357.87L507.72 359.16" fill="none" stroke="#f2b27a" stroke-width="0.8" stroke-linejoin="round"/>
<path d="M327.63 357.06L335.46 356.58L343.29 353.84L358.95 353.84L382.44 353.04L413.76 355.45L507.72 356.74" fill="none" stroke="#f2b27a" stroke-width="0.8" stroke-linejoin="round"/>
<path d="M327.63 358.19L335.46 358.51L343.29 358.19L358.95 358.68L382.44 358.84L413.76 358.68L507.72 359.48" fill="none" stroke="#1a1ad0" stroke-width="0.8" stroke-linejoin="round"/>
<path d="M327.63 344.19L335.46 350.14L343.29 354.65L358.95 352.72L382.44 349.01L413.76 347.40L507.72 348.53" fill="none" stroke="#3f8a62" stroke-width="0.9" stroke-linejoin="round"/>
<path d="M327.63 356.26L335.46 354.65L343.29 353.04L358.95 351.43L382.44 351.43L413.76 353.84L507.72 356.26" fill="none" stroke="#3f8a62" stroke-width="0.9" stroke-linejoin="round"/>
<path d="M327.63 350.95L335.46 344.51L343.29 332.91L358.95 332.43L382.44 337.42L413.76 345.79L507.72 352.24" fill="none" stroke="#1b7043" stroke-width="1.4" stroke-linejoin="round"/>
<path d="M327.63 336.94L335.46 331.31L343.29 276.89L358.95 288.96L382.44 291.86L413.76 294.27L507.72 303.13" fill="none" stroke="#3f8a62" stroke-width="0.9" stroke-linejoin="round"/>
<circle cx="327.63" cy="358.68" r="2.20" fill="#fff" stroke="#111" stroke-width="1.2"/>
<circle cx="335.46" cy="359.48" r="2.20" fill="#fff" stroke="#111" stroke-width="1.2"/>
<circle cx="343.29" cy="358.68" r="2.20" fill="#fff" stroke="#111" stroke-width="1.2"/>
<circle cx="358.95" cy="357.87" r="2.20" fill="#fff" stroke="#111" stroke-width="1.2"/>
<circle cx="382.44" cy="357.06" r="2.20" fill="#fff" stroke="#111" stroke-width="1.2"/>
<circle cx="413.76" cy="356.26" r="2.20" fill="#fff" stroke="#111" stroke-width="1.2"/>
<circle cx="507.72" cy="358.68" r="2.20" fill="#fff" stroke="#111" stroke-width="1.2"/>
<rect x="325.43" y="355.67" width="4.40" height="4.40" fill="#fff" stroke="#111" stroke-width="1.2"/>
<rect x="333.26" y="355.67" width="4.40" height="4.40" fill="#fff" stroke="#111" stroke-width="1.2"/>
<rect x="341.09" y="347.78" width="4.40" height="4.40" fill="#fff" stroke="#111" stroke-width="1.2"/>
<rect x="356.75" y="355.99" width="4.40" height="4.40" fill="#fff" stroke="#111" stroke-width="1.2"/>
<rect x="380.24" y="346.33" width="4.40" height="4.40" fill="#fff" stroke="#111" stroke-width="1.2"/>
<rect x="411.56" y="355.67" width="4.40" height="4.40" fill="#fff" stroke="#111" stroke-width="1.2"/>
<rect x="505.52" y="356.96" width="4.40" height="4.40" fill="#fff" stroke="#111" stroke-width="1.2"/>
<path d="M327.63 354.54L330.16 359.09L325.10 359.09Z" fill="#fff" stroke="#111" stroke-width="1.2"/>
<path d="M335.46 354.05L337.99 358.61L332.93 358.61Z" fill="#fff" stroke="#111" stroke-width="1.2"/>
<path d="M343.29 351.31L345.82 355.87L340.76 355.87Z" fill="#fff" stroke="#111" stroke-width="1.2"/>
<path d="M358.95 351.31L361.48 355.87L356.42 355.87Z" fill="#fff" stroke="#111" stroke-width="1.2"/>
<path d="M382.44 350.51L384.97 355.06L379.91 355.06Z" fill="#fff" stroke="#111" stroke-width="1.2"/>
<path d="M413.76 352.93L416.29 357.48L411.23 357.48Z" fill="#fff" stroke="#111" stroke-width="1.2"/>
<path d="M507.72 354.21L510.25 358.77L505.19 358.77Z" fill="#fff" stroke="#111" stroke-width="1.2"/>
<path d="M327.63 355.32L330.50 358.19L327.63 361.07L324.75 358.19Z" fill="#1a1ad0"/>
<path d="M335.46 355.64L338.34 358.51L335.46 361.39L332.59 358.51Z" fill="#1a1ad0"/>
<path d="M343.29 355.32L346.17 358.19L343.29 361.07L340.42 358.19Z" fill="#1a1ad0"/>
<path d="M358.95 355.80L361.82 358.68L358.95 361.55L356.07 358.68Z" fill="#1a1ad0"/>
<path d="M382.44 355.96L385.31 358.84L382.44 361.71L379.56 358.84Z" fill="#1a1ad0"/>
<path d="M413.76 355.80L416.63 358.68L413.76 361.55L410.88 358.68Z" fill="#1a1ad0"/>
<path d="M507.72 356.60L510.60 359.48L507.72 362.35L504.85 359.48Z" fill="#1a1ad0"/>
<path d="M327.63 347.06L330.50 341.88L324.75 341.88Z" fill="#137a42"/>
<path d="M335.46 353.02L338.34 347.84L332.59 347.84Z" fill="#137a42"/>
<path d="M343.29 357.52L346.17 352.35L340.42 352.35Z" fill="#137a42"/>
<path d="M358.95 355.59L361.82 350.42L356.07 350.42Z" fill="#137a42"/>
<path d="M382.44 351.89L385.31 346.71L379.56 346.71Z" fill="#137a42"/>
<path d="M413.76 350.28L416.63 345.10L410.88 345.10Z" fill="#137a42"/>
<path d="M507.72 351.41L510.60 346.23L504.85 346.23Z" fill="#137a42"/>
<path d="M327.63 353.38L330.50 358.56L324.75 358.56Z" fill="#137a42"/>
<path d="M335.46 351.77L338.34 356.95L332.59 356.95Z" fill="#137a42"/>
<path d="M343.29 350.16L346.17 355.34L340.42 355.34Z" fill="#137a42"/>
<path d="M358.95 348.56L361.82 353.73L356.07 353.73Z" fill="#137a42"/>
<path d="M382.44 348.56L385.31 353.73L379.56 353.73Z" fill="#137a42"/>
<path d="M413.76 350.97L416.63 356.14L410.88 356.14Z" fill="#137a42"/>
<path d="M507.72 353.38L510.60 358.56L504.85 358.56Z" fill="#137a42"/>
<rect x="325.13" y="348.45" width="5.00" height="5.00" fill="#137a42"/>
<rect x="332.96" y="342.01" width="5.00" height="5.00" fill="#137a42"/>
<rect x="340.79" y="330.41" width="5.00" height="5.00" fill="#137a42"/>
<rect x="356.45" y="329.93" width="5.00" height="5.00" fill="#137a42"/>
<rect x="379.94" y="334.92" width="5.00" height="5.00" fill="#137a42"/>
<rect x="411.26" y="343.29" width="5.00" height="5.00" fill="#137a42"/>
<rect x="505.22" y="349.74" width="5.00" height="5.00" fill="#137a42"/>
<path d="M327.63 334.06L330.50 336.94L327.63 339.81L324.75 336.94Z" fill="#137a42"/>
<path d="M335.46 328.43L338.34 331.31L335.46 334.18L332.59 331.31Z" fill="#137a42"/>
<path d="M343.29 274.01L346.17 276.89L343.29 279.76L340.42 276.89Z" fill="#137a42"/>
<path d="M358.95 286.09L361.82 288.96L358.95 291.84L356.07 288.96Z" fill="#137a42"/>
<path d="M382.44 288.99L385.31 291.86L382.44 294.74L379.56 291.86Z" fill="#137a42"/>
<path d="M413.76 291.40L416.63 294.27L413.76 297.15L410.88 294.27Z" fill="#137a42"/>
<path d="M507.72 300.25L510.60 303.13L507.72 306.00L504.85 303.13Z" fill="#137a42"/>
<path d="M327.63 357.06L335.46 356.58L343.29 353.84L358.95 353.84L382.44 352.24L413.76 355.94L507.72 356.58" fill="none" stroke="#000" stroke-width="3.0" stroke-linejoin="round"/>
<path d="M327.63 254.97L335.46 251.52L343.29 246.18L358.95 242.33L382.44 242.33L413.76 247.51L507.72 251.83" fill="none" stroke="#3f8a62" stroke-width="0.9" stroke-linejoin="round"/>
<circle cx="327.63" cy="254.97" r="2.50" fill="#137a42"/>
<circle cx="335.46" cy="251.52" r="2.50" fill="#137a42"/>
<circle cx="343.29" cy="246.18" r="2.50" fill="#137a42"/>
<circle cx="358.95" cy="242.33" r="2.50" fill="#137a42"/>
<circle cx="382.44" cy="242.33" r="2.50" fill="#137a42"/>
<circle cx="413.76" cy="247.51" r="2.50" fill="#137a42"/>
<circle cx="507.72" cy="251.83" r="2.50" fill="#137a42"/>
<text x="283.60" y="300.80" font-size="12.1" text-anchor="middle" transform="rotate(-90 283.60 300.80)" fill="#111" stroke="#111" stroke-width="0.18">CD8+ T cells/µl</text>
<text x="414.20" y="395.00" font-size="14" text-anchor="middle" fill="#111" stroke="#111" stroke-width="0.18">Weeks</text>
<path d="M327.23 367.30L330.83 375.90L328.18 375.90L328.18 380.00L326.28 380.00L326.28 375.90L323.63 375.90Z" fill="#f0861c"/>
<path d="M334.66 367.30L338.26 375.90L335.61 375.90L335.61 380.00L333.71 380.00L333.71 375.90L331.06 375.90Z" fill="#f0861c"/>
<path d="M342.29 367.30L345.89 375.90L343.24 375.90L343.24 380.00L341.34 380.00L341.34 375.90L338.69 375.90Z" fill="#f0861c"/>
<text x="340.60" y="402.00" font-size="13.4" font-weight="bold" text-anchor="middle" transform="rotate(-90 340.60 402.00)" fill="#111" stroke="#111" stroke-width="0.3">rhIL-7</text>
<path d="M80.6 456.10H98.8" stroke="#f2b27a" stroke-width="1.2"/>
<circle cx="89.40" cy="456.10" r="2.80" fill="#fde2c4" stroke="#e8862a" stroke-width="1.5"/>
<text x="109.20" y="462.70" font-size="16.2" text-anchor="start" fill="#111" stroke="#111" stroke-width="0.18">03-001</text>
<path d="M80.6 478.76H98.8" stroke="#f2b27a" stroke-width="1.2"/>
<rect x="86.60" y="475.96" width="5.60" height="5.60" fill="#fde2c4" stroke="#e8862a" stroke-width="1.5"/>
<text x="109.20" y="485.36" font-size="16.2" text-anchor="start" fill="#111" stroke="#111" stroke-width="0.18">03-004</text>
<path d="M80.6 501.42H98.8" stroke="#f2b27a" stroke-width="1.2"/>
<path d="M89.40 498.20L92.62 504.00L86.18 504.00Z" fill="#fde2c4" stroke="#e8862a" stroke-width="1.5"/>
<text x="109.20" y="508.02" font-size="16.2" text-anchor="start" fill="#111" stroke="#111" stroke-width="0.18">03-008</text>
<path d="M80.6 524.08H98.8" stroke="#2f7d52" stroke-width="1.1"/>
<circle cx="89.40" cy="524.08" r="3.50" fill="#137a42"/>
<text x="109.20" y="530.68" font-size="16.2" text-anchor="start" fill="#111" stroke="#111" stroke-width="0.18">10-001</text>
<path d="M80.6 546.74H98.8" stroke="#1f7a48" stroke-width="1.8"/>
<rect x="85.90" y="543.24" width="7.00" height="7.00" fill="#137a42"/>
<text x="109.20" y="553.34" font-size="16.2" text-anchor="start" fill="#111" stroke="#111" stroke-width="0.18">10-002</text>
<path d="M80.6 569.40H98.8" stroke="#3f8060" stroke-width="1.1"/>
<path d="M89.40 565.38L93.43 572.62L85.38 572.62Z" fill="#137a42"/>
<text x="109.20" y="576.00" font-size="16.2" text-anchor="start" fill="#111" stroke="#111" stroke-width="0.18">10-003</text>
<path d="M80.6 592.06H98.8" stroke="#3f8060" stroke-width="1.1"/>
<path d="M89.40 588.04L93.43 592.06L89.40 596.09L85.38 592.06Z" fill="#137a42"/>
<text x="109.20" y="598.66" font-size="16.2" text-anchor="start" fill="#111" stroke="#111" stroke-width="0.18">10-005</text>
<path d="M80.6 614.72H98.8" stroke="#3f8060" stroke-width="1.1"/>
<path d="M89.40 618.75L93.43 611.50L85.38 611.50Z" fill="#137a42"/>
<text x="109.20" y="621.32" font-size="16.2" text-anchor="start" fill="#111" stroke="#111" stroke-width="0.18">10-006</text>
<path d="M80.6 637.38H98.8" stroke="#1a1ad0" stroke-width="1.1"/>
<path d="M89.40 633.36L93.43 637.38L89.40 641.40L85.38 637.38Z" fill="#1a1ad0"/>
<text x="109.20" y="643.98" font-size="16.2" text-anchor="start" fill="#111" stroke="#111" stroke-width="0.18">20-002</text>
<path d="M84 658.47H102" stroke="#000" stroke-width="5" stroke-linecap="round"/>
<text x="113.00" y="665.67" font-size="16.4" text-anchor="start" fill="#111" stroke="#111" stroke-width="0.18">Median</text>
<text x="262.30" y="479.60" font-size="11" font-weight="bold" text-anchor="start" fill="#111" stroke="#111" stroke-width="0.3">E</text>
<path d="M319.6 483.39V663.7" stroke="#111" stroke-width="1.5"/>
<path d="M318.9 663.0H499.30" stroke="#111" stroke-width="1.5"/>
<path d="M316.4 663.00H319.6" stroke="#111" stroke-width="1.1"/>
<path d="M319.60 663V666.2" stroke="#111" stroke-width="1.1"/>
<text x="316.40" y="666.00" font-size="6.7" font-weight="bold" text-anchor="end" fill="#111" stroke="#111" stroke-width="0.25">1</text>
<text x="319.60" y="673.00" font-size="6.7" font-weight="bold" text-anchor="middle" fill="#111" stroke="#111" stroke-width="0.25">1</text>
<path d="M317.0 645.04H319.6" stroke="#111" stroke-width="1.3"/>
<path d="M337.57 663V665.6" stroke="#111" stroke-width="1.3"/>
<path d="M317.0 634.53H319.6" stroke="#111" stroke-width="1.3"/>
<path d="M348.08 663V665.6" stroke="#111" stroke-width="1.3"/>
<path d="M317.0 627.08H319.6" stroke="#111" stroke-width="1.3"/>
<path d="M355.54 663V665.6" stroke="#111" stroke-width="1.3"/>
<path d="M317.0 621.29H319.6" stroke="#111" stroke-width="1.3"/>
<path d="M361.33 663V665.6" stroke="#111" stroke-width="1.3"/>
<path d="M317.0 616.57H319.6" stroke="#111" stroke-width="1.3"/>
<path d="M366.06 663V665.6" stroke="#111" stroke-width="1.3"/>
<path d="M317.0 612.57H319.6" stroke="#111" stroke-width="1.3"/>
<path d="M370.05 663V665.6" stroke="#111" stroke-width="1.3"/>
<path d="M317.0 609.11H319.6" stroke="#111" stroke-width="1.3"/>
<path d="M373.51 663V665.6" stroke="#111" stroke-width="1.3"/>
<path d="M317.0 606.06H319.6" stroke="#111" stroke-width="1.3"/>
<path d="M376.57 663V665.6" stroke="#111" stroke-width="1.3"/>
<path d="M316.4 603.33H319.6" stroke="#111" stroke-width="1.1"/>
<path d="M379.30 663V666.2" stroke="#111" stroke-width="1.1"/>
<text x="316.40" y="606.33" font-size="6.7" font-weight="bold" text-anchor="end" fill="#111" stroke="#111" stroke-width="0.25">10</text>
<text x="379.30" y="673.00" font-size="6.7" font-weight="bold" text-anchor="middle" fill="#111" stroke="#111" stroke-width="0.25">10</text>
<path d="M317.0 585.37H319.6" stroke="#111" stroke-width="1.3"/>
<path d="M397.27 663V665.6" stroke="#111" stroke-width="1.3"/>
<path d="M317.0 574.86H319.6" stroke="#111" stroke-width="1.3"/>
<path d="M407.78 663V665.6" stroke="#111" stroke-width="1.3"/>
<path d="M317.0 567.41H319.6" stroke="#111" stroke-width="1.3"/>
<path d="M415.24 663V665.6" stroke="#111" stroke-width="1.3"/>
<path d="M317.0 561.62H319.6" stroke="#111" stroke-width="1.3"/>
<path d="M421.03 663V665.6" stroke="#111" stroke-width="1.3"/>
<path d="M317.0 556.90H319.6" stroke="#111" stroke-width="1.3"/>
<path d="M425.76 663V665.6" stroke="#111" stroke-width="1.3"/>
<path d="M317.0 552.90H319.6" stroke="#111" stroke-width="1.3"/>
<path d="M429.75 663V665.6" stroke="#111" stroke-width="1.3"/>
<path d="M317.0 549.44H319.6" stroke="#111" stroke-width="1.3"/>
<path d="M433.21 663V665.6" stroke="#111" stroke-width="1.3"/>
<path d="M317.0 546.39H319.6" stroke="#111" stroke-width="1.3"/>
<path d="M436.27 663V665.6" stroke="#111" stroke-width="1.3"/>
<path d="M316.4 543.66H319.6" stroke="#111" stroke-width="1.1"/>
<path d="M439.00 663V666.2" stroke="#111" stroke-width="1.1"/>
<text x="316.40" y="546.66" font-size="6.7" font-weight="bold" text-anchor="end" fill="#111" stroke="#111" stroke-width="0.25">100</text>
<text x="439.00" y="673.00" font-size="6.7" font-weight="bold" text-anchor="middle" fill="#111" stroke="#111" stroke-width="0.25">100</text>
<path d="M317.0 525.70H319.6" stroke="#111" stroke-width="1.3"/>
<path d="M456.97 663V665.6" stroke="#111" stroke-width="1.3"/>
<path d="M317.0 515.19H319.6" stroke="#111" stroke-width="1.3"/>
<path d="M467.48 663V665.6" stroke="#111" stroke-width="1.3"/>
<path d="M317.0 507.74H319.6" stroke="#111" stroke-width="1.3"/>
<path d="M474.94 663V665.6" stroke="#111" stroke-width="1.3"/>
<path d="M317.0 501.95H319.6" stroke="#111" stroke-width="1.3"/>
<path d="M480.73 663V665.6" stroke="#111" stroke-width="1.3"/>
<path d="M317.0 497.23H319.6" stroke="#111" stroke-width="1.3"/>
<path d="M485.46 663V665.6" stroke="#111" stroke-width="1.3"/>
<path d="M317.0 493.23H319.6" stroke="#111" stroke-width="1.3"/>
<path d="M489.45 663V665.6" stroke="#111" stroke-width="1.3"/>
<path d="M317.0 489.77H319.6" stroke="#111" stroke-width="1.3"/>
<path d="M492.91 663V665.6" stroke="#111" stroke-width="1.3"/>
<path d="M317.0 486.72H319.6" stroke="#111" stroke-width="1.3"/>
<path d="M495.97 663V665.6" stroke="#111" stroke-width="1.3"/>
<path d="M316.4 483.99H319.6" stroke="#111" stroke-width="1.1"/>
<path d="M498.70 663V666.2" stroke="#111" stroke-width="1.1"/>
<text x="316.40" y="486.99" font-size="6.7" font-weight="bold" text-anchor="end" fill="#111" stroke="#111" stroke-width="0.25">1000</text>
<text x="498.70" y="673.00" font-size="6.7" font-weight="bold" text-anchor="middle" fill="#111" stroke="#111" stroke-width="0.25">1000</text>
<text x="299.10" y="573.70" font-size="12.2" text-anchor="middle" transform="rotate(-90 299.10 573.70)" fill="#111" stroke="#111" stroke-width="0.18">Baseline CD4 T cells/µl</text>
<text x="409.50" y="695.40" font-size="12.2" text-anchor="middle" fill="#111" stroke="#111" stroke-width="0.18">CD4 T cells/µl increase at week 5</text>
<text x="460.00" y="477.00" font-size="14" text-anchor="start" fill="#111" stroke="#111" stroke-width="0.18">r =</text>
<text x="487.00" y="477.00" font-size="14" text-anchor="start" fill="#111" stroke="#111" stroke-width="0.18">0.883</text>
<text x="460.00" y="493.20" font-size="14" text-anchor="start" fill="#111" stroke="#111" stroke-width="0.18">p =</text>
<text x="486.20" y="493.20" font-size="14" text-anchor="start" fill="#111" stroke="#111" stroke-width="0.18">0.003</text>
<circle cx="337.50" cy="603.30" r="4.60" fill="#fff" stroke="#d08a3a" stroke-width="1.5"/>
<rect x="384.20" y="592.40" width="8.00" height="8.00" fill="#fff" stroke="#e08a30" stroke-width="1.5"/>
<path d="M387.00 584.77L391.02 592.02L382.98 592.02Z" fill="#fff" stroke="#e08a30" stroke-width="1.5"/>
<path d="M381.50 589.35L384.95 592.80L381.50 596.25L378.05 592.80Z" fill="#1a1ad0"/>
<path d="M394.50 584.91L398.41 577.87L390.59 577.87Z" fill="#137a42"/>
<path d="M398.50 586.09L402.41 593.13L394.59 593.13Z" fill="#137a42"/>
<circle cx="427.90" cy="560.50" r="3.60" fill="#137a42"/>
<rect x="459.8" y="523.0" width="8.6" height="9.0" fill="#1d3a2c"/>
<path d="M464.10 524.61L467.09 527.60L464.10 530.59L461.11 527.60Z" fill="#3c8a5c"/>
</svg>
</body></html>
